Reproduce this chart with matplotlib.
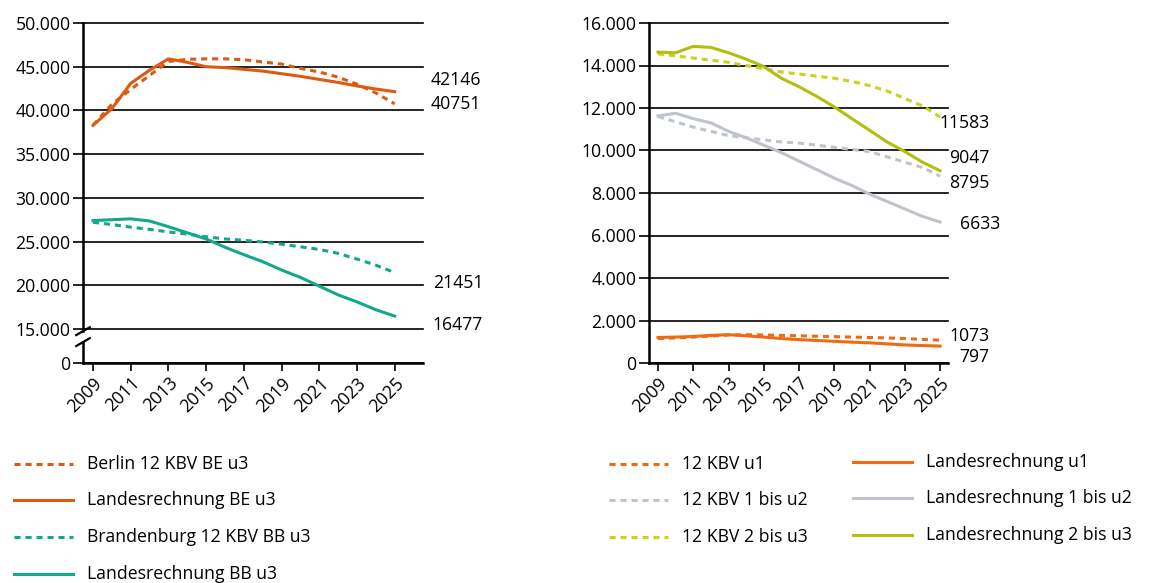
import matplotlib.pyplot as plt
from matplotlib.lines import Line2D

plt.rcParams['font.family'] = ['Open Sans', 'DejaVu Sans']

years = list(range(2009, 2026))

# left chart: Berlin / Brandenburg u3
be_12kbv = [38300, 40700, 42400, 44000, 45600, 45850, 45900, 45900, 45800, 45550,
            45300, 44800, 44400, 43800, 43000, 42000, 40751]
be_land = [38300, 40200, 43100, 44600, 45900, 45500, 45000, 44900, 44700, 44500,
           44200, 43900, 43550, 43200, 42800, 42450, 42146]
bb_12kbv = [27200, 26950, 26650, 26400, 26100, 25850, 25550, 25300, 25150, 24950,
            24700, 24400, 24100, 23650, 23000, 22300, 21451]
bb_land = [27400, 27500, 27600, 27350, 26700, 26000, 25300, 24350, 23500, 22700,
           21750, 20900, 19900, 18900, 18100, 17200, 16477]

# right chart: age groups
u1_12kbv = [1150, 1180, 1220, 1270, 1320, 1330, 1320, 1300, 1280, 1260,
            1240, 1220, 1200, 1180, 1150, 1110, 1073]
u1_land = [1200, 1220, 1250, 1300, 1330, 1280, 1220, 1150, 1100, 1060,
           1020, 980, 950, 900, 850, 820, 797]
u12_12kbv = [11600, 11350, 11100, 10900, 10700, 10600, 10500, 10400, 10350, 10250,
             10150, 10050, 9950, 9700, 9450, 9200, 8795]
u12_land = [11630, 11750, 11500, 11300, 10900, 10600, 10250, 9900, 9500, 9100,
            8700, 8350, 7950, 7600, 7250, 6900, 6633]
u23_12kbv = [14550, 14450, 14350, 14250, 14150, 14000, 13850, 13700, 13600, 13500,
             13400, 13250, 13050, 12800, 12450, 12100, 11583]
u23_land = [14630, 14600, 14900, 14850, 14600, 14300, 13950, 13400, 13000, 12550,
            12050, 11500, 10950, 10400, 9950, 9450, 9047]

c_be = '#DE5A10'
c_bb = '#13A88A'
c_u1 = '#EF6A10'
c_u12 = '#BFC3CA'
c_u23d = '#CAD21A'
c_u23 = '#B3BF0E'

dash = (2, 1.6)
lw = 2.2
fs = 12.7

fig = plt.figure(figsize=(11.53, 5.83), dpi=100)
W, H = 1153, 583


def style_axes(ax):
    for s in ['top', 'right', 'left']:
        ax.spines[s].set_visible(False)
    ax.spines['bottom'].set_linewidth(1.8)
    ax.yaxis.grid(True, color='black', linewidth=1.2)
    ax.set_axisbelow(True)
    ax.tick_params(axis='y', length=7, width=1.2, labelsize=fs, pad=2)
    ax.tick_params(axis='x', length=6, width=1.2, labelsize=fs, pad=2)
    ax.set_xticks(years[::2])
    ax.set_xticklabels([str(y) for y in years[::2]], rotation=45, ha='right',
                       va='top', rotation_mode='anchor')


# ---- left chart
ax1 = fig.add_axes([83 / W, 1 - 363 / H, (423 - 83) / W, (363 - 23) / H])
y0 = 11110  # where "0" sits on the broken axis
ax1.plot(years, be_12kbv, color=c_be, lw=lw, dashes=dash)
ax1.plot(years, be_land, color=c_be, lw=lw)
ax1.plot(years, bb_12kbv, color=c_bb, lw=lw, dashes=dash)
ax1.plot(years, bb_land, color=c_bb, lw=lw)
ax1.set_xlim(2008.47, 2026.5)
ax1.set_ylim(y0, 50000)
style_axes(ax1)
yt = [15000, 20000, 25000, 30000, 35000, 40000, 45000, 50000]
ax1.set_yticks([y0] + yt)
ax1.set_yticklabels(['0'] + [f'{v:,}'.replace(',', '.') for v in yt])
for g in ax1.get_ygridlines():
    g.set_clip_on(False)
# broken y spine
tr = ax1.get_yaxis_transform()
ax1.plot([0, 0], [y0, 13500], color='black', lw=1.8, transform=tr, clip_on=False)
ax1.plot([0, 0], [14750, 50000], color='black', lw=1.8, transform=tr, clip_on=False)
for yb in [13500, 14750]:
    ax1.plot([-0.02, 0.02], [yb - 450, yb + 450], color='black', lw=1.6,
             transform=tr, clip_on=False)

ax1.text(1.021, 43478, f'{be_land[-1]}', transform=tr, fontsize=fs, va='center')
ax1.text(1.021, 40732, f'{be_12kbv[-1]}', transform=tr, fontsize=fs, va='center')
ax1.text(1.029, 20252, f'{bb_12kbv[-1]}', transform=tr, fontsize=fs, va='center')
ax1.text(1.029, 15446, f'{bb_land[-1]}', transform=tr, fontsize=fs, va='center')

# ---- right chart
ax2 = fig.add_axes([649 / W, 1 - 363 / H, (948 - 649) / W, (363 - 23) / H])
ax2.plot(years, u1_12kbv, color=c_u1, lw=lw, dashes=dash)
ax2.plot(years, u1_land, color=c_u1, lw=lw)
ax2.plot(years, u12_12kbv, color=c_u12, lw=lw, dashes=dash)
ax2.plot(years, u12_land, color=c_u12, lw=lw)
ax2.plot(years, u23_12kbv, color=c_u23d, lw=lw, dashes=dash)
ax2.plot(years, u23_land, color=c_u23, lw=lw)
ax2.set_xlim(2008.49, 2025.45)
ax2.set_ylim(0, 16000)
style_axes(ax2)
ax2.spines['left'].set_visible(True)
ax2.spines['left'].set_linewidth(1.8)
yt2 = list(range(0, 16001, 2000))
ax2.set_yticks(yt2)
ax2.set_yticklabels([f'{v:,}'.replace(',', '.') for v in yt2])
for g in ax2.get_ygridlines():
    g.set_clip_on(False)

tr2 = ax2.get_yaxis_transform()
ax2.text(1.140, 11294, f'{u23_12kbv[-1]}', transform=tr2, fontsize=fs, va='center', ha='right')
ax2.text(1.140, 9647, f'{u23_land[-1]}', transform=tr2, fontsize=fs, va='center', ha='right')
ax2.text(1.140, 8470, f'{u12_12kbv[-1]}', transform=tr2, fontsize=fs, va='center', ha='right')
ax2.text(1.174, 6541, f'{u12_land[-1]}', transform=tr2, fontsize=fs, va='center', ha='right')
ax2.text(1.140, 1271, f'{u1_12kbv[-1]}', transform=tr2, fontsize=fs, va='center', ha='right')
ax2.text(1.140, 282, f'{u1_land[-1]}', transform=tr2, fontsize=fs, va='center', ha='right')


# ---- legends (drawn by hand in figure pixels)
def legend_item(x, y, color, dashed, label):
    ln = Line2D([x / W, (x + 59) / W], [1 - y / H, 1 - y / H], color=color, lw=lw,
                transform=fig.transFigure)
    if dashed:
        ln.set_dashes(dash)
    fig.add_artist(ln)
    fig.text((x + 73) / W, 1 - y / H, label, fontsize=fs, va='center')


legend_item(14, 464, c_be, True, 'Berlin 12 KBV BE u3')
legend_item(14, 500, c_be, False, 'Landesrechnung BE u3')
legend_item(14, 537, c_bb, True, 'Brandenburg 12 KBV BB u3')
legend_item(14, 574, c_bb, False, 'Landesrechnung BB u3')

legend_item(609, 464, c_u1, True, '12 KBV u1')
legend_item(609, 500, c_u12, True, '12 KBV 1 bis u2')
legend_item(609, 537, c_u23d, True, '12 KBV 2 bis u3')
legend_item(853, 462, c_u1, False, 'Landesrechnung u1')
legend_item(853, 498, c_u12, False, 'Landesrechnung 1 bis u2')
legend_item(853, 535, c_u23, False, 'Landesrechnung 2 bis u3')

fig.savefig('out.png', dpi=100)
